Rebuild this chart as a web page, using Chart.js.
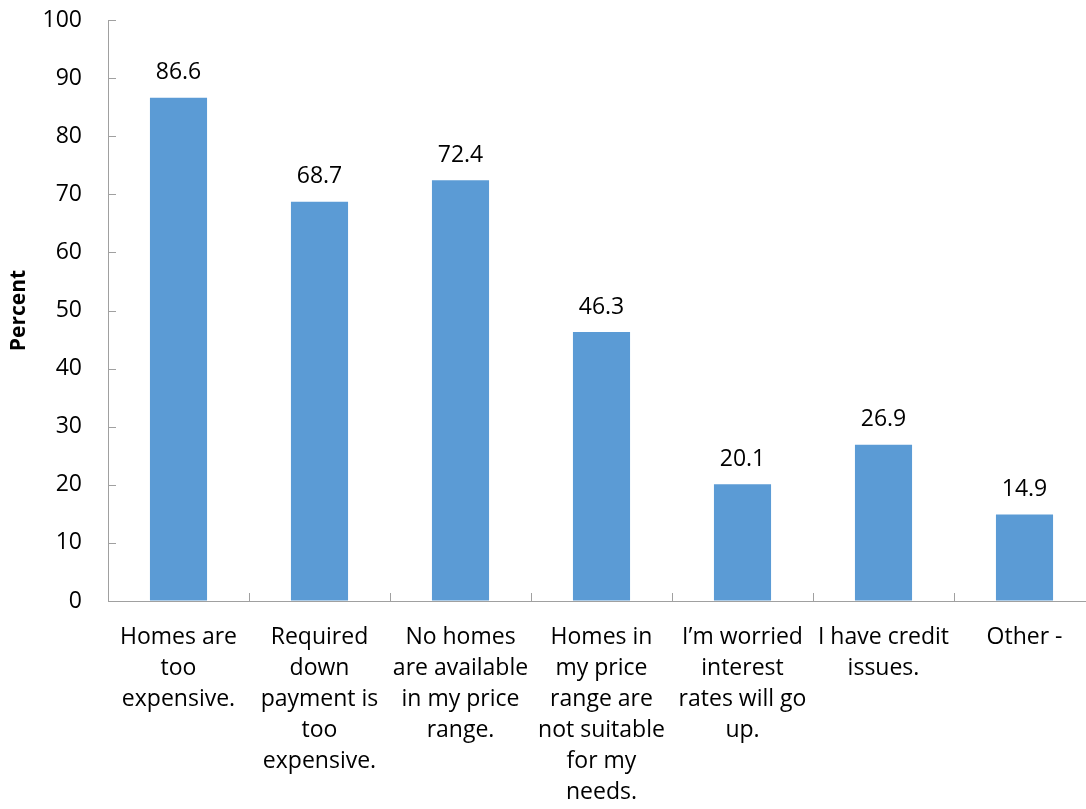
<!DOCTYPE html>
<html>
<head>
<meta charset="utf-8">
<script src="https://cdn.jsdelivr.net/npm/chart.js@4"></script>
<style>
  html, body { margin: 0; padding: 0; background: #fff; overflow: hidden; }
  #wrap { width: 1100px; height: 809px; }
</style>
</head>
<body>
<div id="wrap"><canvas id="chart"></canvas></div>
<script>
const categories = [
  ["Homes are", "too", "expensive."],
  ["Required", "down", "payment is", "too", "expensive."],
  ["No homes", "are available", "in my price", "range."],
  ["Homes in", "my price", "range are", "not suitable", "for my", "needs."],
  ["I\u2019m worried", "interest", "rates will go", "up."],
  ["I have credit", "issues."],
  ["Other -"]
];
const percents = [86.6, 68.7, 72.4, 46.3, 20.1, 26.9, 14.9];
const yTicks = [0, 10, 20, 30, 40, 50, 60, 70, 80, 90, 100];

const axisGray = "#a0a0a0";
const fontFamily = "'Open Sans', sans-serif";

// value labels above each bar + tick marks pointing into the plot
const barExtras = {
  id: "barExtras",
  afterDatasetsDraw(chart) {
    const ctx = chart.ctx;
    const meta = chart.getDatasetMeta(0);
    ctx.save();
    ctx.fillStyle = "#000";
    ctx.font = "23px " + fontFamily;
    ctx.textAlign = "center";
    ctx.textBaseline = "middle";
    meta.data.forEach((bar, i) => {
      ctx.fillText(percents[i].toFixed(1), bar.x, bar.y - 25);
    });
    ctx.restore();
  },
  afterDraw(chart) {
    const ctx = chart.ctx;
    const x = chart.scales.x, y = chart.scales.y;
    const area = chart.chartArea;
    ctx.save();
    ctx.strokeStyle = axisGray;
    ctx.lineWidth = 1;
    ctx.beginPath();
    yTicks.forEach(v => {
      if (v === 0) return;
      const py = Math.round(y.getPixelForValue(v)) + 0.5;
      ctx.moveTo(area.left, py);
      ctx.lineTo(area.left + 8, py);
    });
    const step = x.getPixelForValue(1) - x.getPixelForValue(0);
    for (let i = 1; i <= categories.length; i++) {
      const px = Math.round(x.getPixelForValue(i) - step / 2) + 0.5;
      ctx.moveTo(px, area.bottom);
      ctx.lineTo(px, area.bottom - 8);
    }
    ctx.stroke();
    ctx.restore();
  }
};

new Chart(document.getElementById("chart"), {
  type: "bar",
  data: {
    labels: categories,
    datasets: [{
      data: percents,
      backgroundColor: "#5B9BD5",
      borderWidth: 0,
      barPercentage: 0.405,
      categoryPercentage: 1
    }]
  },
  options: {
    responsive: true,
    maintainAspectRatio: false,
    animation: false,
    layout: { padding: { top: 20, right: 5, bottom: 0, left: 0 } },
    plugins: {
      legend: { display: false },
      tooltip: { enabled: false }
    },
    scales: {
      x: {
        grid: { display: true, drawOnChartArea: false, drawTicks: false },
        border: { color: axisGray, width: 1 },
        afterFit(scale) {
          scale.height = 208;
          scale.paddingLeft = 0;
          scale.paddingRight = 0;
        },
        ticks: {
          color: "#000",
          autoSkip: false,
          maxRotation: 0,
          padding: 21,
          font: { family: fontFamily, size: 23, lineHeight: 31 / 23 }
        }
      },
      y: {
        min: 0,
        max: 100,
        grid: { display: true, drawOnChartArea: false, drawTicks: false },
        border: { color: axisGray, width: 1 },
        afterBuildTicks(scale) {
          scale.ticks = yTicks.map(v => ({ value: v }));
        },
        afterFit(scale) {
          scale.width = 108;
          scale.paddingTop = 0;
          scale.paddingBottom = 0;
        },
        ticks: {
          color: "#000",
          padding: 26,
          font: { family: fontFamily, size: 23 }
        },
        title: {
          display: true,
          text: "Percent",
          color: "#000",
          padding: { top: 6, bottom: 12 },
          font: { family: fontFamily, size: 21, weight: "bold" }
        }
      }
    }
  },
  plugins: [barExtras]
});
</script>
</body>
</html>
